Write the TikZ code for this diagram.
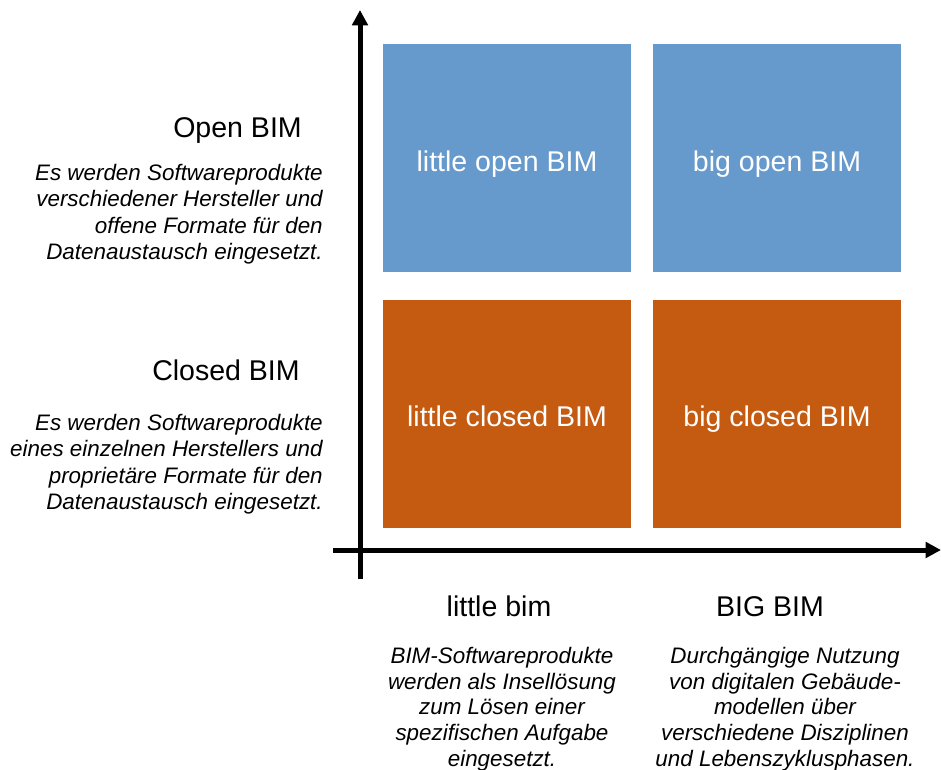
\documentclass[tikz,border=0pt]{standalone}
\usepackage{fontspec}
\setmainfont{Liberation Sans}
\usetikzlibrary{arrows.meta}
\definecolor{bimblue}{RGB}{102,153,204}
\definecolor{bimorange}{RGB}{197,90,17}
\tikzset{
  cell/.style={minimum width=186pt, minimum height=171pt, inner sep=0pt, text=white, text height=22pt, text depth=2.5pt, font=\fontsize{21.4}{25}\selectfont},
  openbox/.style={cell, fill=bimblue},
  closedbox/.style={cell, fill=bimorange},
  heading/.style={font=\fontsize{21.4}{25}\selectfont, inner sep=0pt, anchor=base},
  desc/.style={font=\fontsize{16.8}{19.9}\selectfont\itshape, inner sep=0pt},
  axis/.style={line width=3.75pt, -{Triangle[length=11.5pt,width=11.5pt]}}
}
\begin{document}
\begin{tikzpicture}[x=0.75pt,y=-0.75pt]
\useasboundingbox (0,0) rectangle (941,769);
% cells
\node[openbox] (lo) at (507,158) {little open BIM};
\node[openbox] (bo) at (777,158) {big open BIM};
\node[closedbox] (lc) at (507,413.5) {little closed BIM};
\node[closedbox] (bc) at (777,413.5) {big closed BIM};
% axes
\coordinate (vs) at (360,579);
\coordinate (ve) at (360,10);
\coordinate (hs) at (333,550);
\coordinate (he) at (941,550);
\draw[axis] (vs) -- (ve);
\draw[axis] (hs) -- (he);
% left labels
\node[heading] (ob) at (237.5,137) {Open BIM};
\node[desc, anchor=east, align=right] (obd) at (323,214) {Es werden Softwareprodukte\\verschiedener Hersteller und\\offene Formate für den\\Datenaustausch eingesetzt.};
\node[heading] (cb) at (226,380) {Closed BIM};
\node[desc, anchor=east, align=right] (cbd) at (323,464) {Es werden Softwareprodukte\\eines einzelnen Herstellers und\\proprietäre Formate für den\\Datenaustausch eingesetzt.};
% bottom labels
\node[heading] (lb) at (499,616) {little bim};
\node[desc, align=center, font=\fontsize{16.8}{19.2}\selectfont\itshape] (lbd) at (502,709) {BIM-Softwareprodukte\\werden als Insellösung\\zum Lösen einer\\spezifischen Aufgabe\\eingesetzt.};
\node[heading] (bb) at (770,616) {BIG BIM};
\node[desc, align=center, font=\fontsize{16.8}{19.2}\selectfont\itshape] (bbd) at (785,709) {Durchgängige Nutzung\\von digitalen Gebäude-\\modellen über\\verschiedene Disziplinen\\und Lebenszyklusphasen.};
\end{tikzpicture}
\end{document}
